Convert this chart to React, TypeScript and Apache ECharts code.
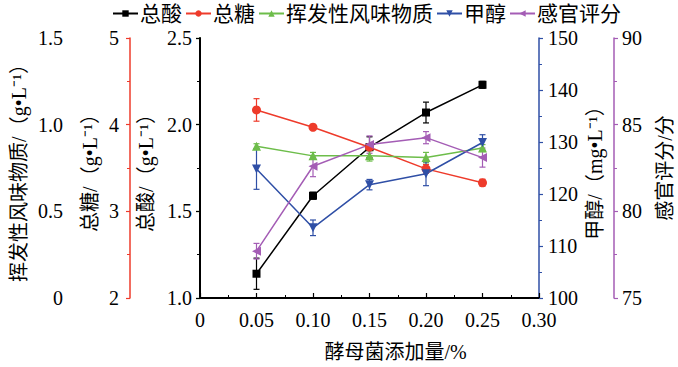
import React, { useEffect, useRef } from "react";
import * as echarts from "echarts";

const xValues = [0.05, 0.1, 0.15, 0.2, 0.25];
const totalAcid = [1.14, 1.59, 1.87, 2.07, 2.23];
const totalAcidErr = [0.09, 0.02, 0.06, 0.06, 0.02];
const totalSugar = [4.17, 3.97, 3.74, 3.49, 3.33];
const totalSugarErr = [0.13, 0.02, 0.03, 0.05, 0.04];
const volatile = [0.875, 0.82, 0.82, 0.81, 0.865];
const volatileErr = [0.015, 0.02, 0.03, 0.03, 0.02];
const methanol = [124.8, 113.5, 121.8, 123.9, 129.9];
const methanolErr = [3.9, 1.5, 1.0, 2.3, 1.5];
const sensory = [77.7, 82.6, 83.85, 84.25, 83.1];
const sensoryErr = [0.45, 0.6, 0.5, 0.35, 0.55];

const seriesNames = ["总酸", "总糖", "挥发性风味物质", "甲醇", "感官评分"];

const FONT = "'Liberation Serif', 'Times New Roman', 'Noto Sans CJK SC', serif";
const C_BLACK = "#000000";
const C_RED = "#ee3b2b";
const C_GREEN = "#6dbd4a";
const C_BLUE = "#2f4fa6";
const C_PURPLE = "#a45db5";

function yAxis(o: any) {
  return {
    type: "value",
    position: o.position,
    offset: o.offset,
    min: o.min,
    max: o.max,
    interval: o.interval,
    name: o.name,
    nameLocation: "middle",
    nameGap: o.nameGap,
    nameRotate: 90,
    nameTextStyle: { fontSize: 20, color: "#000", fontFamily: FONT },
    axisLine: { show: true, lineStyle: { color: o.color, width: o.lineWidth || 1.5 } },
    axisTick: { show: true, inside: false, length: 4, lineStyle: { color: o.color, width: 1.2 } },
    minorTick: { show: true, splitNumber: 2, length: 3, lineStyle: { color: o.color, width: 1 } },
    splitLine: { show: false },
    minorSplitLine: { show: false },
    axisLabel: {
      color: "#000",
      fontSize: 20,
      fontFamily: FONT,
      margin: o.margin,
      formatter: o.formatter,
    },
  };
}

function errSeries(vals: number[], errs: number[], axis: number, color: string) {
  return {
    type: "custom",
    yAxisIndex: axis,
    z: 1,
    silent: true,
    data: xValues.map((x, i) => [x, vals[i] - errs[i], vals[i] + errs[i]]),
    encode: { x: 0, y: [1, 2] },
    renderItem: (params: any, api: any) => {
      const x = api.value(0);
      const lo = api.coord([x, api.value(1)]);
      const hi = api.coord([x, api.value(2)]);
      const w = 3;
      const style = { stroke: color, lineWidth: 1.2 };
      return {
        type: "group",
        children: [
          { type: "line", shape: { x1: lo[0], y1: lo[1], x2: hi[0], y2: hi[1] }, style },
          { type: "line", shape: { x1: lo[0] - w, y1: lo[1], x2: lo[0] + w, y2: lo[1] }, style },
          { type: "line", shape: { x1: hi[0] - w, y1: hi[1], x2: hi[0] + w, y2: hi[1] }, style },
        ],
      };
    },
  };
}

function lineSeries(name: string, vals: number[], axis: number, color: string, symbol: string, size: number) {
  return {
    type: "line",
    name,
    yAxisIndex: axis,
    z: 3,
    data: xValues.map((x, i) => [x, vals[i]]),
    symbol,
    symbolSize: size,
    showAllSymbol: true,
    lineStyle: { color, width: 1.5 },
    itemStyle: { color, borderWidth: 0 },
  };
}

export default function App() {
  const ref = useRef<HTMLDivElement>(null);
  useEffect(() => {
    document.body.style.margin = "0";
    if (!ref.current) return;
    const chart = echarts.init(ref.current, undefined, { renderer: "svg" });
    const option: any = {
      animation: false,
      backgroundColor: "#ffffff",
      textStyle: { fontFamily: FONT },
      legend: {
        data: seriesNames,
        top: 3,
        left: 112,
        padding: 0,
        itemGap: 3,
        itemWidth: 25,
        itemHeight: 8,
        textStyle: { fontSize: 21, color: "#000", fontFamily: FONT, padding: [0, 0, 0, -3] },
      },
      grid: { left: 200, right: 139, top: 38, bottom: 69, containLabel: false },
      xAxis: {
        type: "value",
        min: 0,
        max: 0.3,
        interval: 0.05,
        name: "酵母菌添加量/%",
        nameLocation: "middle",
        nameGap: 44,
        nameTextStyle: { fontSize: 20, color: "#000", fontFamily: FONT, padding: [0, 0, 0, 52] },
        axisLine: { show: true, onZero: false, lineStyle: { color: "#000", width: 2 } },
        axisTick: { show: true, inside: true, length: 5, lineStyle: { color: "#000", width: 1.2 } },
        minorTick: { show: true, splitNumber: 2, length: 3, lineStyle: { color: "#000", width: 1 } },
        splitLine: { show: false },
        axisLabel: {
          color: "#000",
          fontSize: 20,
          fontFamily: FONT,
          margin: 12,
          formatter: (v: number) => (v === 0 ? "0" : v.toFixed(2)),
        },
      },
      yAxis: [
        yAxis({
          position: "left", offset: 127, min: 0, max: 1.5, interval: 0.5, color: C_GREEN,
          name: "挥发性风味物质/（g•L⁻¹）", nameGap: 44, margin: 10,
          formatter: (v: number) => (v === 0 ? "0" : v.toFixed(1)),
        }),
        yAxis({
          position: "left", offset: 70, min: 2, max: 5, interval: 1, color: C_RED,
          name: "总糖/（g•L⁻¹）", nameGap: 30, margin: 11,
          formatter: (v: number) => String(Math.round(v)),
        }),
        yAxis({
          position: "left", offset: 0, min: 1.0, max: 2.5, interval: 0.5, color: C_BLACK, lineWidth: 2,
          name: "总酸/（g•L⁻¹）", nameGap: 44, margin: 8,
          formatter: (v: number) => v.toFixed(1),
        }),
        yAxis({
          position: "right", offset: 0, min: 100, max: 150, interval: 10, color: C_BLUE,
          name: "甲醇/（mg•L⁻¹）", nameGap: 46, margin: 9,
          formatter: (v: number) => String(Math.round(v)),
        }),
        yAxis({
          position: "right", offset: 75, min: 75, max: 90, interval: 5, color: C_PURPLE,
          name: "感官评分/分", nameGap: 41, margin: 8,
          formatter: (v: number) => String(Math.round(v)),
        }),
      ],
      series: [
        errSeries(volatile, volatileErr, 0, C_GREEN),
        errSeries(totalSugar, totalSugarErr, 1, C_RED),
        errSeries(totalAcid, totalAcidErr, 2, C_BLACK),
        errSeries(methanol, methanolErr, 3, C_BLUE),
        errSeries(sensory, sensoryErr, 4, C_PURPLE),
        lineSeries(seriesNames[0], totalAcid, 2, C_BLACK, "rect", 8),
        lineSeries(seriesNames[1], totalSugar, 1, C_RED, "circle", 9),
        lineSeries(seriesNames[2], volatile, 0, C_GREEN, "triangle", 9),
        lineSeries(seriesNames[3], methanol, 3, C_BLUE, "path://M0,0 L10,0 L5,9 Z", 9),
        lineSeries(seriesNames[4], sensory, 4, C_PURPLE, "path://M0,5 L9,0 L9,10 Z", 9),
      ],
    };
    chart.setOption(option);
    return () => chart.dispose();
  }, []);
  return <div ref={ref} style={{ width: 678, height: 367 }} />;
}
